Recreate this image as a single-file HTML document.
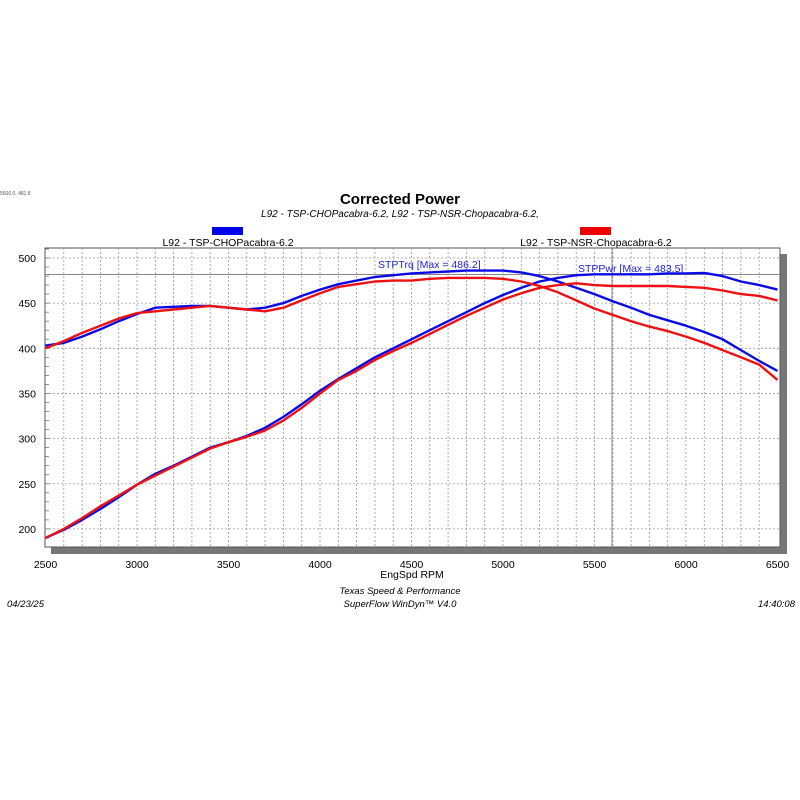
<!DOCTYPE html>
<html><head><meta charset="utf-8"><style>
html,body{margin:0;padding:0;background:#fff;}
svg{display:block;font-family:"Liberation Sans",Arial,sans-serif;}
</style></head><body>
<svg id="s" width="800" height="800" viewBox="0 0 800 800" xmlns="http://www.w3.org/2000/svg">
<text x="0" y="195" font-size="5" fill="#555">5600.0, 481.8</text>
<text x="400" y="204" font-size="15" font-weight="bold" text-anchor="middle">Corrected Power</text>
<text x="400" y="217" font-size="10" font-style="italic" text-anchor="middle">L92 - TSP-CHOPacabra-6.2, L92 - TSP-NSR-Chopacabra-6.2,</text>
<rect x="212" y="227" width="31" height="8" fill="#0000ee"/>
<text x="228" y="246" font-size="10.5" text-anchor="middle">L92 - TSP-CHOPacabra-6.2</text>
<rect x="580" y="227" width="31" height="8" fill="#ee0000"/>
<text x="596" y="246" font-size="10.5" text-anchor="middle">L92 - TSP-NSR-Chopacabra-6.2</text>
<rect x="51" y="547" width="736" height="7" fill="#777"/>
<rect x="780" y="254" width="7" height="300" fill="#777"/>
<rect x="45" y="248" width="735" height="299" fill="#fff" stroke="#555" stroke-width="1"/>
<g id="grid"></g>
<line x1="45" y1="274.5" x2="780" y2="274.5" stroke="#888" stroke-width="1"/>
<line x1="612" y1="248" x2="612" y2="547" stroke="#888" stroke-width="1"/>
<g id="curves" fill="none" stroke-width="2.4" stroke-linejoin="round"></g>
<text x="378" y="268" font-size="10.5" fill="#2222dd">STPTrq [Max = 486.2]</text>
<text x="578" y="272" font-size="10.5" fill="#2222dd">STPPwr [Max = 483.5]</text>
<g id="labels" font-size="10.5"></g>
<text x="412" y="578" font-size="10.5" text-anchor="middle">EngSpd RPM</text>
<text x="400" y="594" font-size="9.5" font-style="italic" text-anchor="middle">Texas Speed &amp; Performance</text>
<text x="400" y="607" font-size="9.5" font-style="italic" text-anchor="middle">SuperFlow WinDyn™ V4.0</text>
<text x="7" y="607" font-size="9.5" font-style="italic">04/23/25</text>
<text x="795" y="607" font-size="9.5" font-style="italic" text-anchor="end">14:40:08</text>
</svg>
<script>
const NS="http://www.w3.org/2000/svg";
const X=r=>45.5+(r-2500)*0.183, Y=v=>258+(500-v)*0.903;
function el(p,t,a){const e=document.createElementNS(NS,t);for(const k in a)e.setAttribute(k,a[k]);if(a.text){e.textContent=a.text;}p.appendChild(e);return e;}
const g=document.getElementById('grid');
for(let r=2600;r<6500;r+=100){const x=X(r);el(g,'line',{x1:x,y1:248,x2:x,y2:547,stroke:'#999','stroke-dasharray':'2,2','stroke-width':0.8});}
for(let v=200;v<=500;v+=50){const y=Y(v);el(g,'line',{x1:45,y1:y,x2:780,y2:y,stroke:'#999','stroke-dasharray':'2,2','stroke-width':0.8});}
for(let v=190;v<=510;v+=10){const y=Y(v);if(y>248&&y<547)el(g,'line',{x1:45,y1:y,x2:49,y2:y,stroke:'#777','stroke-width':0.8});}
const L=document.getElementById('labels');
for(let v=200;v<=500;v+=50)el(L,'text',{x:36,y:Y(v)+4,'text-anchor':'end',text:String(v)});
for(let r=2500;r<=6500;r+=500)el(L,'text',{x:X(r),y:568,'text-anchor':'middle',text:String(r)});
const bt=[403,406,413,421,430,438,445,446,447,447,445,443,445,450,458,465,471,475,479,481,483,484,485,486,486,486,484,480,474,467,460,452,445,437,431,425,418,410,398,386,375];
const rt=[400,408,417,425,433,439,441,443,445,447,445,443,441,445,453,461,468,471,474,475,475,477,478,478,478,477,474,469,462,453,444,437,430,424,419,413,406,398,390,382,365];
const bp=[190,199,210,222,235,249,261,270,280,290,296,303,312,324,338,353,366,378,390,400,410,420,430,440,450,459,467,474,478,481,482,482,482,482,483,483,483.5,480,474,470,465];
const rp=[190,200,212,225,237,249,259,269,279,289,296,302,309,320,334,350,365,375,387,397,406,416,426,436,445,454,461,467,470,472,470,469,469,469,469,468,467,464,460,458,453];
const C=document.getElementById('curves');
function pl(d,c){el(C,'polyline',{points:d.map((v,i)=>X(2500+i*100).toFixed(1)+','+Y(v).toFixed(1)).join(' '),stroke:c});}
pl(bt,'#0a0ae6');pl(bp,'#0a0ae6');pl(rt,'#ee1111');pl(rp,'#ee1111');
</script>
</body></html>
